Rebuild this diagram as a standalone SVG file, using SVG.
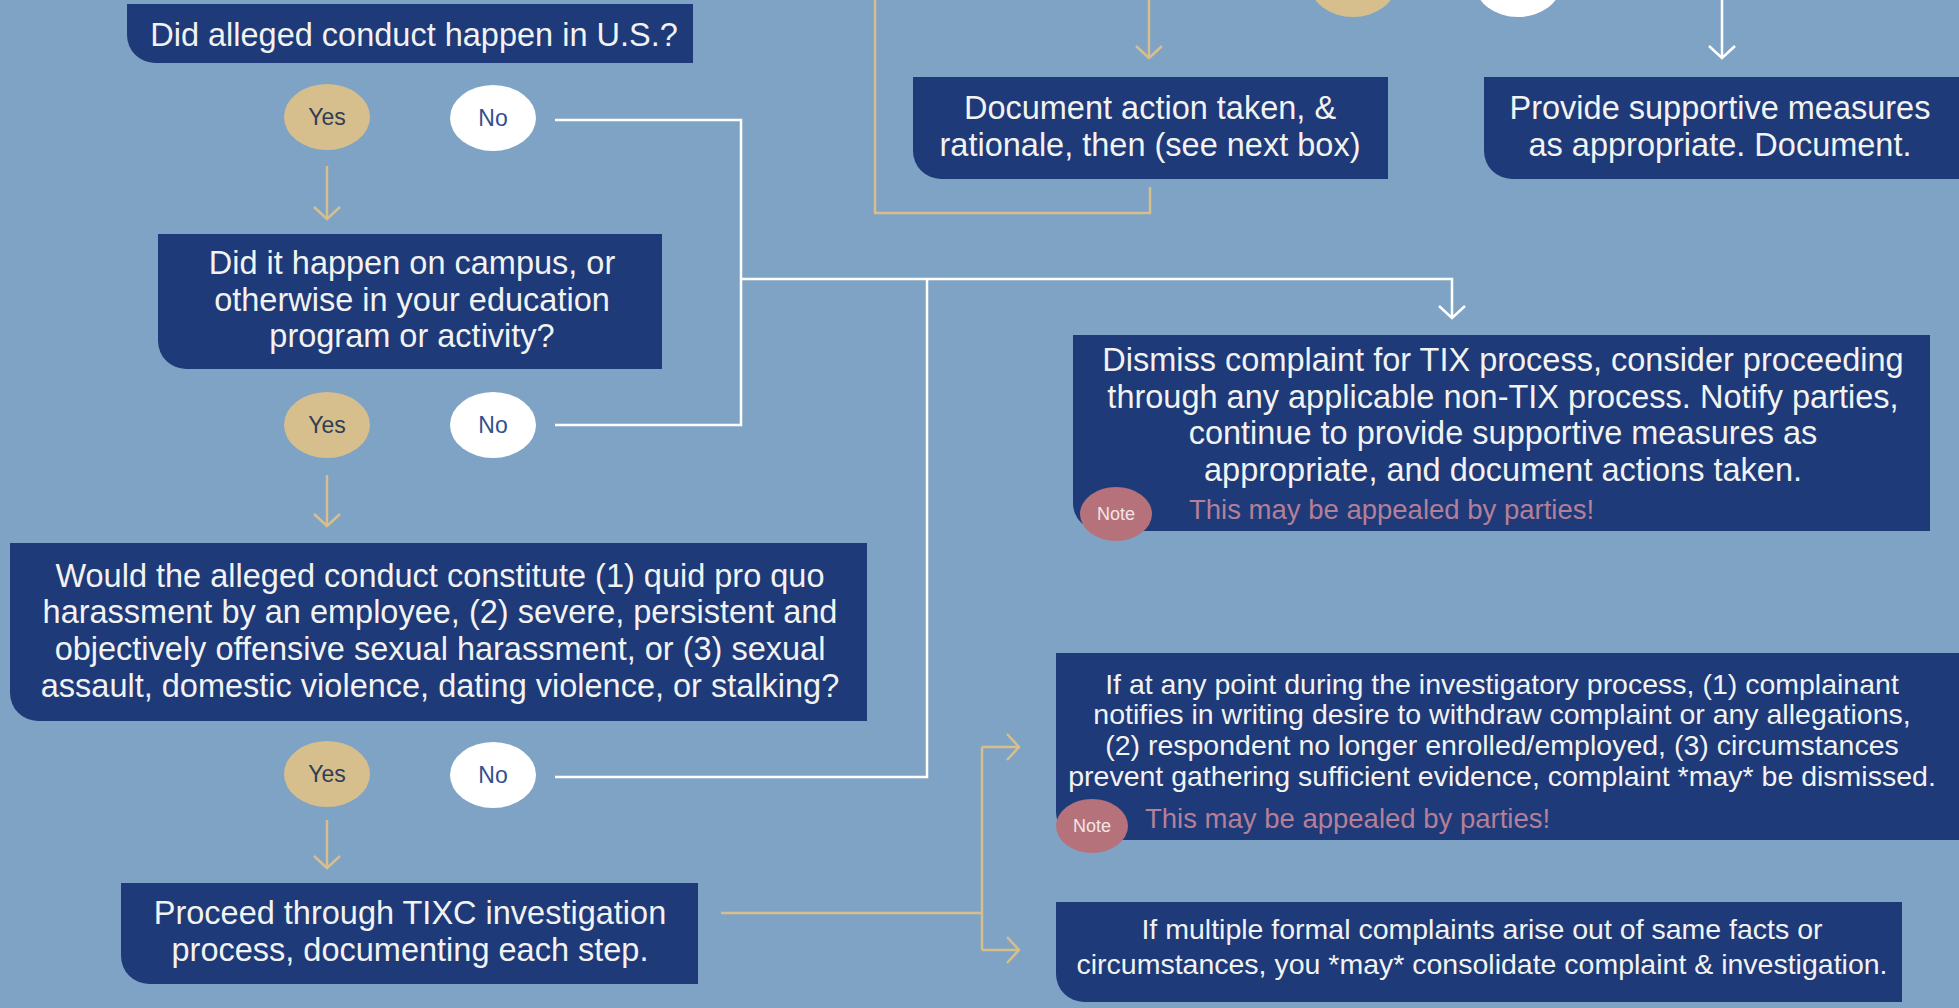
<svg xmlns="http://www.w3.org/2000/svg" width="1959" height="1008" viewBox="0 0 1959 1008">
<defs>
<style>
.bg{fill:#7fa3c5}
.box{fill:#1e3a78}
.t{font-family:"Liberation Sans",Arial,sans-serif;fill:#f2f2f2;text-anchor:middle}
.t28{font-size:32.5px}
.t25{font-size:28.5px}
.yes{fill:#d6bf8d}
.no{fill:#ffffff}
.yt{font-family:"Liberation Sans",Arial,sans-serif;font-size:23px;fill:#2e3e55;text-anchor:middle}
.nt{font-family:"Liberation Sans",Arial,sans-serif;font-size:23px;fill:#34508e;text-anchor:middle}
.note{fill:#b5727b}
.ntx{font-family:"Liberation Sans",Arial,sans-serif;font-size:18px;fill:#f4e4e6;text-anchor:middle}
.ap{font-family:"Liberation Sans",Arial,sans-serif;font-size:27.5px;fill:#b57f98}
.wl{fill:none;stroke:#ffffff;stroke-width:2.5}
.tl{fill:none;stroke:#d6bf8d;stroke-width:2.5}
</style>
<marker id="aw" markerWidth="30" markerHeight="30" refX="15" refY="15" orient="auto" markerUnits="userSpaceOnUse"><path d="M3,2 L15,15 L3,28" fill="none" stroke="#ffffff" stroke-width="2.5"/></marker>
<marker id="at" markerWidth="30" markerHeight="30" refX="15" refY="15" orient="auto" markerUnits="userSpaceOnUse"><path d="M3,2 L15,15 L3,28" fill="none" stroke="#d6bf8d" stroke-width="2.5"/></marker>
</defs>
<rect class="bg" x="0" y="0" width="1959" height="1008"/>

<g id="connectors">
<path class="wl" d="M555,120 H741 V425 H555"/>
<path class="wl" d="M741,279 H1452 V318" marker-end="url(#aw)"/>
<path class="wl" d="M555,777 H927 V279"/>
<path class="wl" d="M1722,0 V58" marker-end="url(#aw)"/>
<path class="tl" d="M327,166 V219" marker-end="url(#at)"/>
<path class="tl" d="M327,475 V526" marker-end="url(#at)"/>
<path class="tl" d="M327,820 V868" marker-end="url(#at)"/>
<path class="tl" d="M721,913 H982"/>
<path class="tl" d="M982,747 V950"/>
<path class="tl" d="M982,747 H1019" marker-end="url(#at)"/>
<path class="tl" d="M982,950 H1019" marker-end="url(#at)"/>
<path class="tl" d="M1149,0 V58" marker-end="url(#at)"/>
<path class="tl" d="M875,0 V213 H1150 V187"/>
</g>

<g id="top-yes"><ellipse class="yes" cx="1353" cy="-16" rx="43" ry="33"/></g>
<g id="top-no"><ellipse class="no" cx="1518" cy="-16" rx="43" ry="33"/></g>

<g id="q1">
<path class="box" d="M127,4 H693 V63 H155 A28,28 0 0 1 127,35 Z"/>
<text class="t t28" x="414" y="46">Did alleged conduct happen in U.S.?</text>
</g>
<g id="yes1"><ellipse class="yes" cx="327" cy="117" rx="43" ry="33"/><text class="yt" x="327" y="125">Yes</text></g>
<g id="no1"><ellipse class="no" cx="493" cy="118" rx="43" ry="33"/><text class="nt" x="493" y="126">No</text></g>

<g id="q2">
<path class="box" d="M158,234 H662 V369 H186 A28,28 0 0 1 158,341 Z"/>
<text class="t t28" x="412" y="274">Did it happen on campus, or</text>
<text class="t t28" x="412" y="311">otherwise in your education</text>
<text class="t t28" x="412" y="347">program or activity?</text>
</g>
<g id="yes2"><ellipse class="yes" cx="327" cy="425" rx="43" ry="33"/><text class="yt" x="327" y="433">Yes</text></g>
<g id="no2"><ellipse class="no" cx="493" cy="425" rx="43" ry="33"/><text class="nt" x="493" y="433">No</text></g>

<g id="q3">
<path class="box" d="M10,543 H867 V721 H38 A28,28 0 0 1 10,693 Z"/>
<text class="t t28" x="440" y="587">Would the alleged conduct constitute (1) quid pro quo</text>
<text class="t t28" x="440" y="623">harassment by an employee, (2) severe, persistent and</text>
<text class="t t28" x="440" y="660">objectively offensive sexual harassment, or (3) sexual</text>
<text class="t t28" x="440" y="697">assault, domestic violence, dating violence, or stalking?</text>
</g>
<g id="yes3"><ellipse class="yes" cx="327" cy="774" rx="43" ry="33"/><text class="yt" x="327" y="782">Yes</text></g>
<g id="no3"><ellipse class="no" cx="493" cy="775" rx="43" ry="33"/><text class="nt" x="493" y="783">No</text></g>

<g id="proceed">
<path class="box" d="M121,883 H698 V984 H149 A28,28 0 0 1 121,956 Z"/>
<text class="t t28" x="410" y="924">Proceed through TIXC investigation</text>
<text class="t t28" x="410" y="961">process, documenting each step.</text>
</g>

<g id="document">
<path class="box" d="M913,77 H1388 V179 H941 A28,28 0 0 1 913,151 Z"/>
<text class="t t28" x="1150" y="119">Document action taken, &amp;</text>
<text class="t t28" x="1150" y="156">rationale, then (see next box)</text>
</g>

<g id="supportive">
<path class="box" d="M1484,77 H1959 V179 H1512 A28,28 0 0 1 1484,151 Z"/>
<text class="t t28" x="1720" y="119">Provide supportive measures</text>
<text class="t t28" x="1720" y="156">as appropriate. Document.</text>
</g>

<g id="dismiss">
<path class="box" d="M1073,335 H1930 V531 H1101 A28,28 0 0 1 1073,503 Z"/>
<text class="t t28" x="1503" y="371">Dismiss complaint for TIX process, consider proceeding</text>
<text class="t t28" x="1503" y="408">through any applicable non-TIX process. Notify parties,</text>
<text class="t t28" x="1503" y="444">continue to provide supportive measures as</text>
<text class="t t28" x="1503" y="481">appropriate, and document actions taken.</text>
<ellipse class="note" cx="1116" cy="514" rx="36" ry="27"/>
<text class="ntx" x="1116" y="520">Note</text>
<text class="ap" x="1189" y="519">This may be appealed by parties!</text>
</g>

<g id="withdraw">
<path class="box" d="M1056,653 H1959 V840 H1084 A28,28 0 0 1 1056,812 Z"/>
<text class="t t25" x="1502" y="694">If at any point during the investigatory process, (1) complainant</text>
<text class="t t25" x="1502" y="724">notifies in writing desire to withdraw complaint or any allegations,</text>
<text class="t t25" x="1502" y="755">(2) respondent no longer enrolled/employed, (3) circumstances</text>
<text class="t t25" x="1502" y="786">prevent gathering sufficient evidence, complaint *may* be dismissed.</text>
<ellipse class="note" cx="1092" cy="826" rx="36" ry="27"/>
<text class="ntx" x="1092" y="832">Note</text>
<text class="ap" x="1145" y="828">This may be appealed by parties!</text>
</g>

<g id="consolidate">
<path class="box" d="M1056,902 H1902 V1002 H1084 A28,28 0 0 1 1056,974 Z"/>
<text class="t t25" x="1482" y="939">If multiple formal complaints arise out of same facts or</text>
<text class="t t25" x="1482" y="974">circumstances, you *may* consolidate complaint &amp; investigation.</text>
</g>
</svg>
